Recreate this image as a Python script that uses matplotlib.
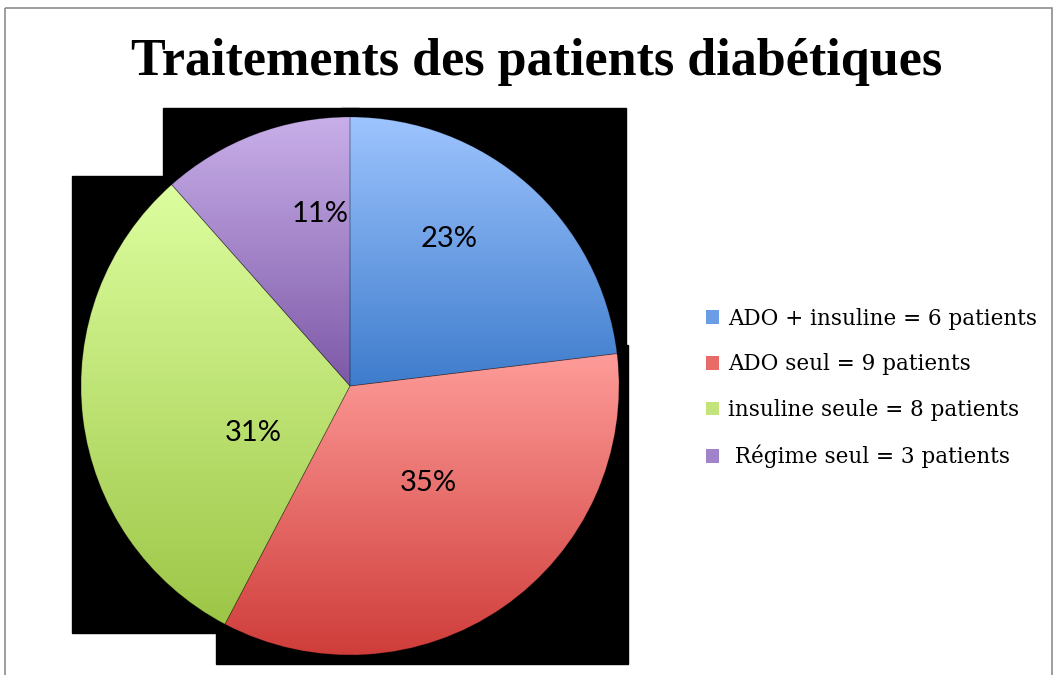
import numpy as np
import matplotlib.pyplot as plt
from matplotlib.patches import Rectangle, Patch
from matplotlib.colors import LinearSegmentedColormap

# data
labels = ["ADO + insuline = 6 patients", "ADO seul = 9 patients",
          "insuline seule = 8 patients", " Régime seul = 3 patients"]
patients = [6, 9, 8, 3]
pct_labels = ["23%", "35%", "31%", "11%"]

# styles
top_colors = ["#9dc4fe", "#fe9c99", "#ddfe9f", "#c8afe9"]
bottom_colors = ["#3e7ccc", "#cf3d3a", "#9dc647", "#7d58a7"]
legend_colors = ["#6a9de6", "#e86b68", "#c2e47a", "#a083c8"]
# label positions in pie units (radius = 1)
label_xy = [(0.37, 0.545), (0.29, -0.36), (-0.36, -0.175), (-0.11, 0.64)]

W, H = 1058, 675
fig = plt.figure(figsize=(W / 100, H / 100), dpi=100)

# outer frame
bg = fig.add_axes([0, 0, 1, 1])
bg.set_xlim(0, W)
bg.set_ylim(H, 0)
bg.axis("off")
bg.add_patch(Rectangle((5, 8), 1047, 720, fill=False, edgecolor="#8c8c8c", lw=1.2))

fig.text(537 / W, 1 - 62 / H, "Traitements des patients diabétiques",
         ha="center", va="center", fontsize=37.5, fontweight="bold",
         family="Liberation Serif")

# pie
cx, cy, r, half = 350, 386, 269, 300
ax = fig.add_axes([(cx - half) / W, (H - cy - half) / H, 2 * half / W, 2 * half / H])
wedges, _ = ax.pie(patients, startangle=90, counterclock=False, radius=1,
                   wedgeprops=dict(linewidth=0.6, edgecolor=(0, 0, 0, 0.25)))

grad = np.linspace(0, 1, 256).reshape(-1, 1)
pad = 0.032
for w, top, bot in zip(wedges, top_colors, bottom_colors):
    bb = w.get_path().get_extents()
    # black box behind each slice (lost transparency in the original)
    ax.add_patch(Rectangle((bb.x0 - pad, bb.y0 - pad), bb.width + 2 * pad,
                           bb.height + 2 * pad, color="black", zorder=0))
    cmap = LinearSegmentedColormap.from_list("g", [bot, top])
    im = ax.imshow(grad, extent=[bb.x0, bb.x1, bb.y0, bb.y1], origin="lower",
                   cmap=cmap, aspect="auto", zorder=1)
    im.set_clip_path(w)
    w.set_facecolor("none")
    w.set_zorder(2)

for (x, y), t in zip(label_xy, pct_labels):
    ax.text(x, y, t, ha="center", va="center", fontsize=21, family="Lato", zorder=3)

lim = half / r
ax.set_xlim(-lim, lim)
ax.set_ylim(-lim, lim)
ax.set_aspect("equal")
ax.axis("off")

handles = [Patch(facecolor=c, edgecolor="none") for c in legend_colors]
fig.legend(handles, labels, loc="center left", bbox_to_anchor=(706 / W, 1 - 388 / H),
           frameon=False, prop=dict(family="DejaVu Serif", size=15.5),
           handlelength=0.62, handleheight=0.62, handletextpad=0.42,
           labelspacing=1.1, borderpad=0, borderaxespad=0)

fig.savefig("out.png", dpi=100)
